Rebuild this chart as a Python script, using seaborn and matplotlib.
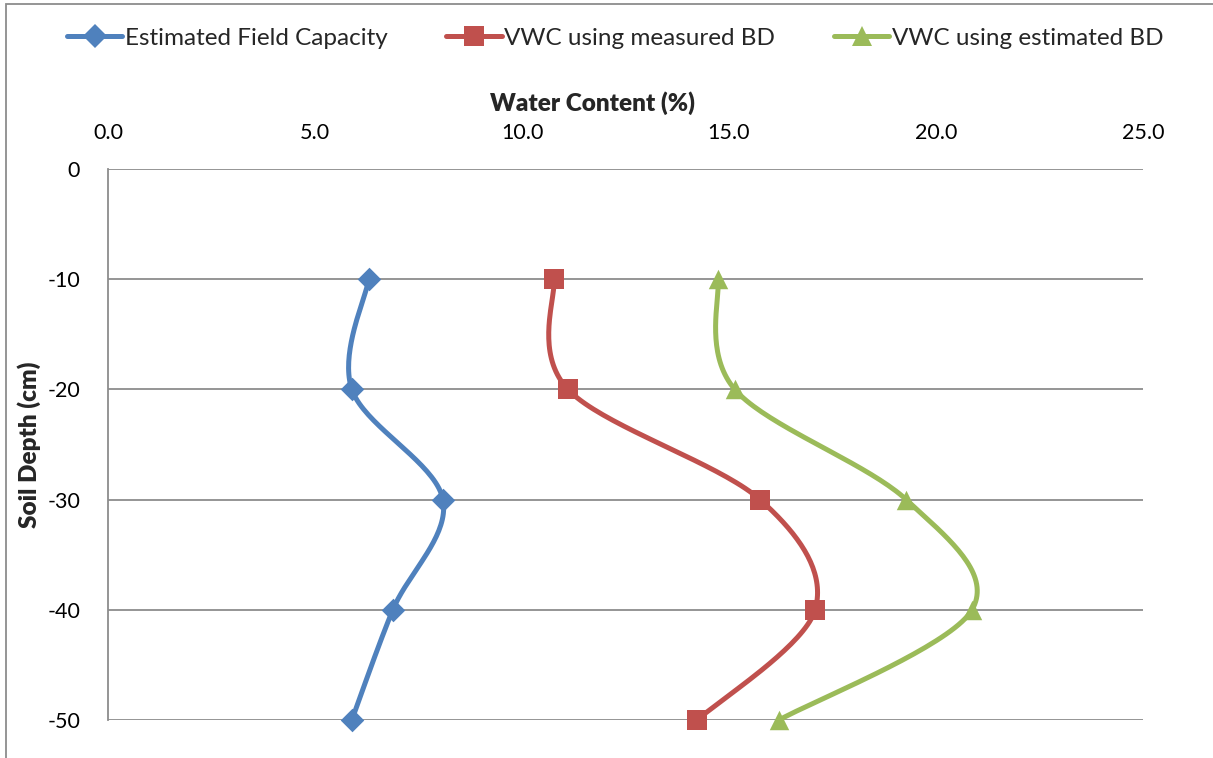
import numpy as np
import pandas as pd
import matplotlib
matplotlib.use("Agg")
import matplotlib.pyplot as plt
from matplotlib.lines import Line2D
from matplotlib.patches import Rectangle
import seaborn as sns

# Soil depth (cm) and water content (%) for each series
depth = [-10, -20, -30, -40, -50]
field_capacity = [6.30, 5.89, 8.09, 6.88, 5.89]
vwc_measured_bd = [10.77, 11.11, 15.75, 17.08, 14.23]
vwc_estimated_bd = [14.73, 15.14, 19.28, 20.87, 16.21]

series_names = ["Estimated Field Capacity", "VWC using measured BD", "VWC using estimated BD"]
series_values = [field_capacity, vwc_measured_bd, vwc_estimated_bd]
colors = ["#4F81BD", "#C0504D", "#9BBB59"]
markers = ["D", "s", "^"]
marker_sizes = [12, 14, 14]

x_ticks = [0, 5, 10, 15, 20, 25]
y_ticks = [0, -10, -20, -30, -40, -50]


def smooth_curve(xs, ys, n=40):
    """Catmull-Rom style cubic Bezier through the points (spreadsheet-like smoothing)."""
    pts = np.column_stack([xs, ys]).astype(float)
    padded = np.vstack([pts[0], pts, pts[-1]])
    out = []
    t = np.linspace(0, 1, n)[:, None]
    for i in range(1, len(padded) - 2):
        p0, p1, p2, p3 = padded[i - 1], padded[i], padded[i + 1], padded[i + 2]
        c1 = p1 + (p2 - p0) / 6.0
        c2 = p2 - (p3 - p1) / 6.0
        seg = ((1 - t) ** 3) * p1 + 3 * ((1 - t) ** 2) * t * c1 + 3 * (1 - t) * t ** 2 * c2 + t ** 3 * p2
        out.append(seg if i == 1 else seg[1:])
    arr = np.vstack(out)
    return arr[:, 0], arr[:, 1]


sns.set_theme(style="white")
plt.rcParams["font.family"] = ["Lato", "DejaVu Sans"]

W, H = 1213, 758
LW = 3.6
fig = plt.figure(figsize=(W / 100, H / 100), dpi=100)
ax = fig.add_axes([108 / W, 1 - 720 / H, (1143 - 108) / W, (720 - 169) / H])

for name, vals, c, m, ms in zip(series_names, series_values, colors, markers, marker_sizes):
    sx, sy = smooth_curve(vals, depth)
    curve = pd.DataFrame({"x": sx, "y": sy})
    sns.lineplot(data=curve, x="x", y="y", sort=False, estimator=None, ax=ax,
                 color=c, linewidth=LW, zorder=3, legend=False, clip_on=False)
    pts = pd.DataFrame({"x": vals, "y": depth})
    sns.scatterplot(data=pts, x="x", y="y", ax=ax, marker=m, s=ms ** 2,
                    color=c, edgecolor=c, linewidth=0, zorder=4, legend=False,
                    clip_on=False)

ax.set_xlim(0, 25)
ax.set_ylim(-50, 0)
ax.set_xticks(x_ticks)
ax.set_xticklabels([f"{v:.1f}" for v in x_ticks])
ax.set_yticks(y_ticks)
ax.set_yticklabels([str(v) for v in y_ticks])
ax.xaxis.tick_top()
ax.xaxis.set_label_position("top")
ax.tick_params(axis="both", length=0, labelsize=15.5, colors="#000000")
ax.tick_params(axis="x", pad=19)
ax.tick_params(axis="y", pad=20)

ax.grid(axis="y", color="#8C8C8C", linewidth=1.3)
ax.grid(axis="x", visible=False)
for side in ["top", "right", "bottom"]:
    ax.spines[side].set_visible(False)
ax.spines["left"].set_color("#8C8C8C")
ax.spines["left"].set_linewidth(1.3)

ax.set_xlabel("Water Content (%)", fontsize=17.5, fontweight="heavy")
ax.set_ylabel("Soil Depth (cm)", fontsize=17.5, fontweight="heavy")
ax.xaxis.set_label_coords((593 - 108) / 1035, (720 - 111) / 551)
ax.yaxis.set_label_coords((41 - 108) / 1035, 0.5)

handles = [Line2D([0], [0], color=c, marker=m, markersize=ms, linewidth=LW,
                  markeredgewidth=0)
           for c, m, ms in zip(colors, markers, marker_sizes)]
fig.legend(handles, series_names, loc="center", bbox_to_anchor=(0.507, 1 - 38 / H),
           ncol=3, frameon=False, fontsize=17.5, handlelength=2.3, handletextpad=0.1,
           columnspacing=2.4)

# Chart area frame
fig.patches.append(Rectangle((6 / W, -0.05), 1.1, 1.05 - 4 / H, transform=fig.transFigure,
                             fill=False, edgecolor="#8C8C8C", linewidth=1.3, zorder=0))

fig.savefig("out.png", dpi=100)
